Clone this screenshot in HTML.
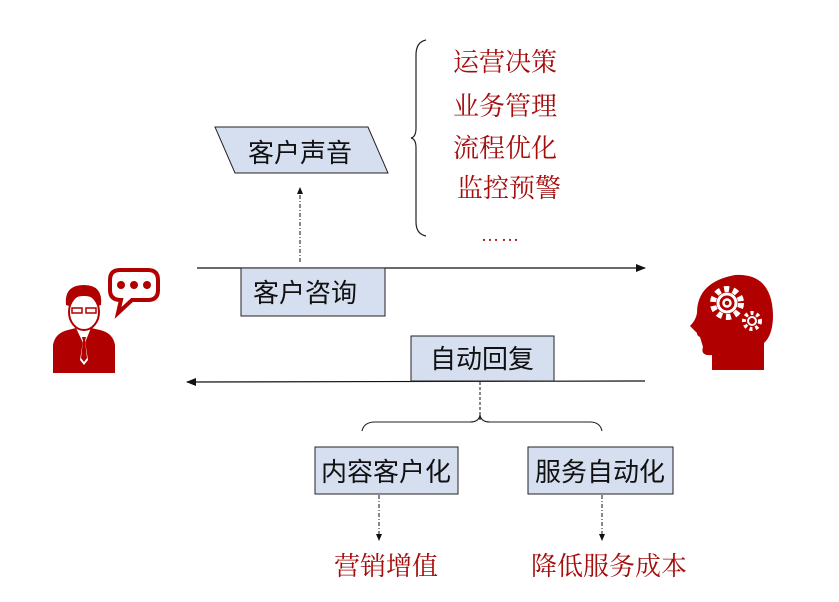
<!DOCTYPE html>
<html><head><meta charset="utf-8"><style>
html,body{margin:0;padding:0;background:#fff;width:839px;height:602px;overflow:hidden}
svg{display:block}
.r{font-family:"Liberation Serif","Noto Serif CJK SC",serif;fill:#a50d0d;font-size:26px}
.b{font-family:"Liberation Sans","Noto Sans CJK SC",sans-serif;fill:#111;font-size:26px}
</style></head><body>
<svg width="839" height="602" viewBox="0 0 839 602" xmlns="http://www.w3.org/2000/svg">
<defs>
<marker id="a" markerWidth="10" markerHeight="8" refX="9" refY="4" orient="auto" markerUnits="userSpaceOnUse"><path d="M0,0 L10,4 L0,8 z" fill="#111"/></marker>
<marker id="s" markerWidth="7" markerHeight="6" refX="6" refY="3" orient="auto" markerUnits="userSpaceOnUse"><path d="M0,0 L7,3 L0,6 z" fill="#111"/></marker>
</defs>
<polygon points="215,127 368,127 388,173 235,173" fill="#d5dff0" stroke="#222" stroke-width="1"/>
<text class="b" x="300" y="162" text-anchor="middle">客户声音</text>
<line x1="300" y1="262" x2="300" y2="188" stroke="#111" stroke-dasharray="4,2,1,2" marker-end="url(#s)"/>
<path d="M426,40 Q416,42 416,55 L416,128 Q416,137 411,138 Q416,139 416,148 L416,222 Q416,234 426,236" fill="none" stroke="#222" stroke-width="1.2"/>
<text class="r" x="453" y="71">运营决策</text>
<text class="r" x="453" y="115">业务管理</text>
<text class="r" x="453" y="157">流程优化</text>
<text class="r" x="457" y="197">监控预警</text>
<text class="r" x="481" y="241" style="font-size:18px;letter-spacing:2px">……</text>
<line x1="197" y1="268" x2="645" y2="268" stroke="#111" stroke-width="1.2" marker-end="url(#a)"/>
<rect x="241" y="268" width="144" height="48" fill="#d5dff0" stroke="#222"/>
<text class="b" x="305" y="302" text-anchor="middle">客户咨询</text>
<line x1="645" y1="381" x2="187" y2="382" stroke="#111" stroke-width="1.2" marker-end="url(#a)"/>
<rect x="411" y="336" width="143" height="45" fill="#d5dff0" stroke="#222"/>
<text class="b" x="482" y="368" text-anchor="middle">自动回复</text>
<line x1="480" y1="382" x2="480" y2="420" stroke="#111" stroke-dasharray="3,2"/>
<path d="M362,431 Q364,422 375,422 L470,422 Q479,422 480,415 Q481,422 490,422 L590,422 Q600,422 602,431" fill="none" stroke="#222" stroke-width="1.1"/>
<rect x="315" y="447" width="143" height="47" fill="#d5dff0" stroke="#222"/>
<text class="b" x="386" y="481" text-anchor="middle">内容客户化</text>
<rect x="528" y="447" width="145" height="47" fill="#d5dff0" stroke="#222"/>
<text class="b" x="600" y="481" text-anchor="middle">服务自动化</text>
<line x1="379" y1="495" x2="379" y2="540" stroke="#111" stroke-dasharray="4,2,1,2" marker-end="url(#s)"/>
<line x1="602" y1="495" x2="602" y2="540" stroke="#111" stroke-dasharray="4,2,1,2" marker-end="url(#s)"/>
<text class="r" x="386" y="575" text-anchor="middle">营销增值</text>
<text class="r" x="609" y="575" text-anchor="middle">降低服务成本</text>
<g fill="#b00000">
<path d="M53,373 L53,345 Q55,333 68,330 L76,328 L84,345 L91,328 L100,330 Q113,333 115,345 L115,373 z"/>
<path d="M81,336 L87,336 L85,341 L88,360 L84,365 L80,360 L83,341 z" fill="#fff"/>
<path d="M82,337 L86,337 L85,341 L87,358 L84,362 L81,358 L83,341 z" fill="#b00000"/>
<path d="M66,305 Q64,285 84,285 Q103,285 101,305 L98,306 Q96,296 84,296 Q71,296 69,306 z"/>
<ellipse cx="84" cy="312" rx="15" ry="18" fill="none" stroke="#b00000" stroke-width="2"/>
<rect x="72" y="308" width="10" height="5" fill="none" stroke="#b00000" stroke-width="1.5"/>
<rect x="86" y="308" width="10" height="5" fill="none" stroke="#b00000" stroke-width="1.5"/>
</g>
<path d="M120,270 L148,270 Q158,270 158,280 L158,290 Q158,300 148,300 L132,300 L118,313 L121,300 Q110,300 110,290 L110,280 Q110,270 120,270 z" fill="none" stroke="#b00000" stroke-width="4"/>
<circle cx="121" cy="285" r="4" fill="#b00000"/><circle cx="134" cy="285" r="4" fill="#b00000"/><circle cx="147" cy="285" r="4" fill="#b00000"/>
<path d="M712,370 L712,355 Q700,356 703,347 L700,337 Q697,336 697,333 L690,326 Q696,320 697,313 Q697,282 735,275 Q772,273 773,315 Q773,335 764,343 L764,370 z" fill="#b00000"/>
<g fill="none" stroke="#fff">
<circle cx="727" cy="303" r="14" stroke-width="6" stroke-dasharray="5,4"/>
<circle cx="727" cy="303" r="9" stroke-width="3"/>
<circle cx="727" cy="303" r="3.5" stroke-width="2.5"/>
<circle cx="752" cy="321" r="8" stroke-width="4" stroke-dasharray="3,3"/>
<circle cx="752" cy="321" r="4" stroke-width="2"/>
</g>
</svg>
</body></html>
